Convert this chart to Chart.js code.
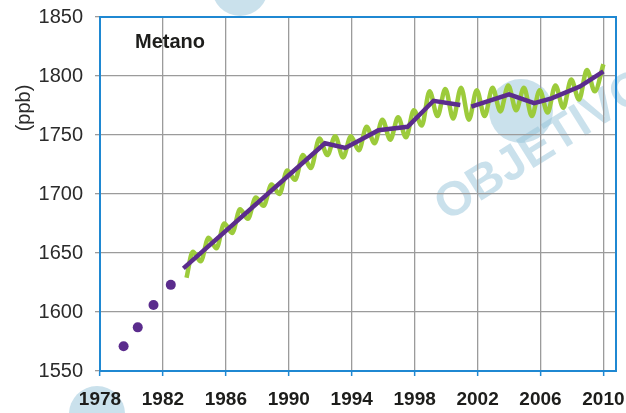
<!DOCTYPE html>
<html>
<head>
<meta charset="utf-8">
<script src="https://cdn.jsdelivr.net/npm/chart.js@4/dist/chart.umd.min.js"></script>
<style>
  html, body { margin: 0; padding: 0; background: #fff; }
  #wrap { width: 626px; height: 413px; position: relative; }
</style>
</head>
<body>
<div id="wrap"><canvas id="metano"></canvas></div>
<script>
// axis ticks
const yearTicks = [1978, 1982, 1986, 1990, 1994, 1998, 2002, 2006, 2010];
const ppbTicks = [1550, 1600, 1650, 1700, 1750, 1800, 1850];

// early isolated measurements (purple dots)
const earlyYears = [1979.5, 1980.4, 1981.4, 1982.5];
const earlyValues = [1571, 1587, 1606, 1623];

// trend line (purple), null = gap
const trendYears = [1983.3, 1992.3, 1993.6, 1995.7, 1997.55, 1999.2, 2000.9, 2001.25, 2001.6, 2004.0, 2005.6, 2006.7, 2008.5, 2010.0];
const trendValues = [1637, 1743, 1739, 1754, 1757, 1779, 1775.5, null, 1774, 1784.5, 1777, 1781, 1791, 1804];

// seasonal cycle (green), peaks and troughs
const seasonYears = [1983.5, 1983.9, 1984.4, 1984.9, 1985.4, 1985.9, 1986.4, 1986.9, 1987.4, 1987.9,
  1988.4, 1988.9, 1989.4, 1989.9, 1990.4, 1990.9, 1991.4, 1991.95, 1992.45, 1992.95,
  1993.45, 1993.95, 1994.45, 1994.95, 1995.45, 1995.95, 1996.45, 1996.95, 1997.45, 1997.95,
  1998.45, 1998.95, 1999.45, 1999.95, 2000.45, 2000.95, 2001.45, 2001.95, 2002.45, 2002.95,
  2003.45, 2003.95, 2004.45, 2004.95, 2005.45, 2005.95, 2006.45, 2006.95, 2007.45, 2007.95,
  2008.45, 2008.95, 2009.45, 2010.0];
const seasonValues = [1629, 1651, 1643, 1663, 1654, 1675, 1667, 1687, 1679, 1697,
  1690, 1708, 1700, 1720, 1712, 1733, 1722, 1747, 1733, 1749,
  1731, 1749, 1737, 1757, 1743, 1763, 1746, 1765, 1748, 1771,
  1758, 1787, 1766, 1789, 1764, 1790, 1763, 1788, 1766, 1790,
  1770, 1792, 1771, 1790, 1766, 1788, 1769, 1792, 1773, 1797,
  1780, 1805, 1787, 1810];

const toPoints = (xs, ys) => xs.map((x, i) => ({ x: x, y: ys[i] }));

const BLUE = '#1f88d2';
const GRID = '#9b9b9b';
const WATER = 'rgba(150, 195, 218, 0.5)';

const decorations = {
  id: 'decorations',
  beforeDraw(chart) {
    // faint watermark behind the grid
    const ctx = chart.ctx;
    ctx.save();
    ctx.fillStyle = WATER;
    [[521, 111, 32], [97, 414, 28], [240, -12, 28]].forEach(([cx, cy, r]) => {
      ctx.beginPath();
      ctx.arc(cx, cy, r, 0, Math.PI * 2);
      ctx.fill();
    });
    ctx.translate(447, 222);
    ctx.rotate(-32 * Math.PI / 180);
    ctx.font = 'bold 48px "Liberation Sans", Arial, sans-serif';
    ctx.textBaseline = 'alphabetic';
    ctx.fillText('OBJETIVO', 0, 0);
    ctx.restore();
  },
  beforeDatasetsDraw(chart) {
    const ctx = chart.ctx;
    const a = chart.chartArea;
    ctx.save();
    ctx.strokeStyle = BLUE;
    ctx.lineWidth = 2;
    ctx.strokeRect(a.left, a.top, a.right - a.left, a.bottom - a.top);
    ctx.restore();
  },
  afterDraw(chart) {
    const ctx = chart.ctx;
    ctx.save();
    ctx.fillStyle = '#1d1d1b';
    ctx.font = 'bold 20px "Liberation Sans", Arial, sans-serif';
    ctx.textBaseline = 'alphabetic';
    ctx.fillText('Metano', 135, 48);

    ctx.fillStyle = '#2b2b2b';
    ctx.font = '20px "Liberation Sans", Arial, sans-serif';
    ctx.translate(24, 108);
    ctx.rotate(-Math.PI / 2);
    ctx.textAlign = 'center';
    ctx.textBaseline = 'middle';
    ctx.fillText('(ppb)', 0, 0);
    ctx.restore();
  }
};

new Chart(document.getElementById('metano'), {
  type: 'line',
  data: {
    datasets: [
      {
        label: 'sazonal',
        order: 3,
        data: toPoints(seasonYears, seasonValues),
        borderColor: '#9ccb3b',
        borderWidth: 4.5,
        pointRadius: 0,
        cubicInterpolationMode: 'monotone',
        fill: false
      },
      {
        label: 'tendencia',
        order: 1,
        data: toPoints(trendYears, trendValues),
        borderColor: '#5b2c8d',
        borderWidth: 4.5,
        pointRadius: 0,
        tension: 0,
        spanGaps: false,
        fill: false
      },
      {
        label: 'medidas',
        order: 2,
        data: toPoints(earlyYears, earlyValues),
        showLine: false,
        pointRadius: 5,
        pointBackgroundColor: '#5b2c8d',
        pointBorderWidth: 0
      }
    ]
  },
  options: {
    responsive: true,
    maintainAspectRatio: false,
    animation: false,
    layout: { padding: { top: 17, right: 10, left: 0, bottom: 0 } },
    plugins: { legend: { display: false }, tooltip: { enabled: false } },
    scales: {
      x: {
        type: 'linear',
        min: 1978,
        max: 2010.8,
        afterBuildTicks: (scale) => { scale.ticks = yearTicks.map(v => ({ value: v })); },
        afterFit: (scale) => { scale.height = 42; scale.paddingLeft = 0; scale.paddingRight = 0; },
        grid: { color: GRID, lineWidth: 1.3, tickLength: 5, tickColor: BLUE, tickWidth: 1.5 },
        border: { color: BLUE, width: 2 },
        ticks: {
          padding: 12,
          color: '#1d1d1b',
          font: { family: '"Liberation Sans", Arial, sans-serif', size: 19, weight: 'bold' },
          callback: (v) => String(v)
        }
      },
      y: {
        min: 1550,
        max: 1850,
        afterBuildTicks: (scale) => { scale.ticks = ppbTicks.map(v => ({ value: v })); },
        afterFit: (scale) => { scale.width = 100; scale.paddingTop = 0; scale.paddingBottom = 0; },
        grid: { color: GRID, lineWidth: 1.3, tickLength: 5, tickColor: GRID },
        border: { color: BLUE, width: 2 },
        ticks: {
          padding: 12,
          color: '#2b2b2b',
          font: { family: '"Liberation Sans", Arial, sans-serif', size: 20 },
          callback: (v) => String(v)
        }
      }
    }
  },
  plugins: [decorations]
});
</script>
</body>
</html>
